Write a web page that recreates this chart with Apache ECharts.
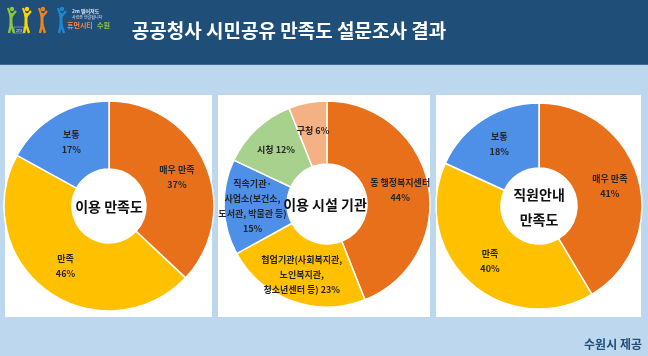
<!DOCTYPE html>
<html>
<head>
<meta charset="utf-8">
<script src="https://cdn.jsdelivr.net/npm/echarts@6/dist/echarts.min.js"></script>
<style>
html,body{margin:0;padding:0;background:#BDD7EE;}
#chart{width:648px;height:356px;}
</style>
</head>
<body>
<div id="chart"></div>
<script>
// ---- data ----
const titleText = '공공청사 시민공유 만족도 설문조사 결과';
const sourceText = '수원시 제공';

const pie1Center = '이용 만족도';
const pie1Names = ['매우 만족', '만족', '보통'];
const pie1Values = [37, 46, 17];

const pie2Center = '이용 시설 기관';
const pie2Names = ['동 행정복지센터', '협업기관(사회복지관,\n노인복지관,\n청소년센터 등)', '직속기관·\n사업소(보건소,\n도서관, 박물관 등)', '시청', '구청'];
const pie2Values = [44, 23, 15, 12, 6];
const pie2Sep = ['\n', ' ', '\n', ' ', ' '];

const pie3Center = '직원안내\n만족도';
const pie3Names = ['매우 만족', '만족', '보통'];
const pie3Values = [41, 40, 18];

const satColors = ['#E8701A', '#FFC000', '#4E8FE8'];
const facColors = ['#E8701A', '#FFC000', '#4E8FE8', '#A9D18E', '#F4B183'];

// ---- chart ----
const FONT = '"Noto Sans CJK KR", "Noto Sans", sans-serif';
const chart = echarts.init(document.getElementById('chart'), null, {renderer: 'canvas'});

function pieSeries(names, values, colors, center, radius, sep) {
  return {
    type: 'pie',
    center: center,
    radius: radius,
    startAngle: 90,
    clockwise: true,
    avoidLabelOverlap: false,
    silent: true,
    animation: false,
    itemStyle: {borderColor: '#FFFFFF', borderWidth: 1.5},
    label: {
      show: true,
      position: 'inside',
      fontFamily: FONT,
      fontSize: 9,
      fontWeight: 'bold',
      color: '#262626',
      lineHeight: 15,
      formatter: function (p) {
        const s = sep ? sep[p.dataIndex] : '\n';
        return p.name + s + p.value + '%';
      }
    },
    labelLine: {show: false},
    data: names.map((n, i) => ({name: n, value: values[i], itemStyle: {color: colors[i]}}))
  };
}

function figure(x, color) {
  return [
    {type: 'circle', shape: {cx: x + 4, cy: 9, r: 2.2}, style: {fill: color}},
    {type: 'line', shape: {x1: x, y1: 8, x2: x + 3, y2: 17}, style: {stroke: color, lineWidth: 2.2}},
    {type: 'line', shape: {x1: x + 8, y1: 11, x2: x + 3, y2: 17}, style: {stroke: color, lineWidth: 2.2}},
    {type: 'line', shape: {x1: x + 3, y1: 13, x2: x + 3, y2: 25}, style: {stroke: color, lineWidth: 3}},
    {type: 'line', shape: {x1: x + 3, y1: 24, x2: x + 1, y2: 33}, style: {stroke: color, lineWidth: 2.4}},
    {type: 'line', shape: {x1: x + 3, y1: 24, x2: x + 6, y2: 33}, style: {stroke: color, lineWidth: 2.4}}
  ];
}

const graphics = [
  {type: 'rect', shape: {x: 0, y: 0, width: 648, height: 65}, style: {fill: '#1F4E79'}, z: -10},
  {type: 'rect', shape: {x: 0, y: 64, width: 648, height: 1}, style: {fill: '#3C6A96'}, z: -9},
  {type: 'rect', shape: {x: 5, y: 95, width: 207, height: 222}, style: {fill: '#FFFFFF'}, z: -10},
  {type: 'rect', shape: {x: 218, y: 95, width: 212, height: 222}, style: {fill: '#FFFFFF'}, z: -10},
  {type: 'rect', shape: {x: 436, y: 95, width: 205, height: 222}, style: {fill: '#FFFFFF'}, z: -10},
  {type: 'text', x: 289, y: 31, style: {text: titleText, fill: '#FFFFFF', font: 'bold 19px ' + FONT, textAlign: 'center', textVerticalAlign: 'middle'}},
  {type: 'text', x: 642, y: 344, style: {text: sourceText, fill: '#1F4E79', font: 'bold 12px ' + FONT, textAlign: 'right', textVerticalAlign: 'middle'}},
  {type: 'text', x: 109, y: 207, style: {text: pie1Center, fill: '#111', font: 'bold 14px ' + FONT, textAlign: 'center', textVerticalAlign: 'middle'}, z: 10},
  {type: 'text', x: 325, y: 205, style: {text: pie2Center, fill: '#111', font: 'bold 14px ' + FONT, textAlign: 'center', textVerticalAlign: 'middle'}, z: 10},
  {type: 'text', x: 539, y: 207, style: {text: pie3Center, fill: '#111', font: 'bold 14px ' + FONT, lineHeight: 25, textAlign: 'center', textVerticalAlign: 'middle'}, z: 10},
  // logo
  {type: 'rect', shape: {x: 14, y: 27, width: 10, height: 6}, style: {fill: 'none', stroke: '#8FB8DE', lineWidth: 0.6}},
  {type: 'text', x: 19, y: 30, style: {text: '2m', fill: '#D9E6F2', font: '4px ' + FONT, textAlign: 'center', textVerticalAlign: 'middle'}},
  {type: 'text', x: 72, y: 11, style: {text: '2m 떨어져도', fill: '#D9E6F2', font: 'bold 5px ' + FONT, textVerticalAlign: 'middle'}},
  {type: 'text', x: 72, y: 17, style: {text: '사랑은 연결됩니다', fill: '#D9E6F2', font: '4px ' + FONT, textVerticalAlign: 'middle'}},
  {type: 'text', x: 67, y: 25, style: {text: '휴먼시티', fill: '#F08A4B', font: 'bold 7px ' + FONT, textVerticalAlign: 'middle'}},
  {type: 'text', x: 97, y: 25, style: {text: '수원', fill: '#9BC53D', font: 'bold 7px ' + FONT, textVerticalAlign: 'middle'}}
].concat(figure(8, '#8DC63F'), figure(23, '#FFD200'), figure(39, '#F08222'), figure(58, '#1E88D2'));

chart.setOption({
  backgroundColor: '#BDD7EE',
  animation: false,
  graphic: graphics,
  series: [
    pieSeries(pie1Names, pie1Values, satColors, [109, 206], [37, 105]),
    pieSeries(pie2Names, pie2Values, facColors, [327, 204], [40, 103], pie2Sep),
    pieSeries(pie3Names, pie3Values, satColors, [539, 206], [38, 103])
  ]
});
</script>
</body>
</html>
